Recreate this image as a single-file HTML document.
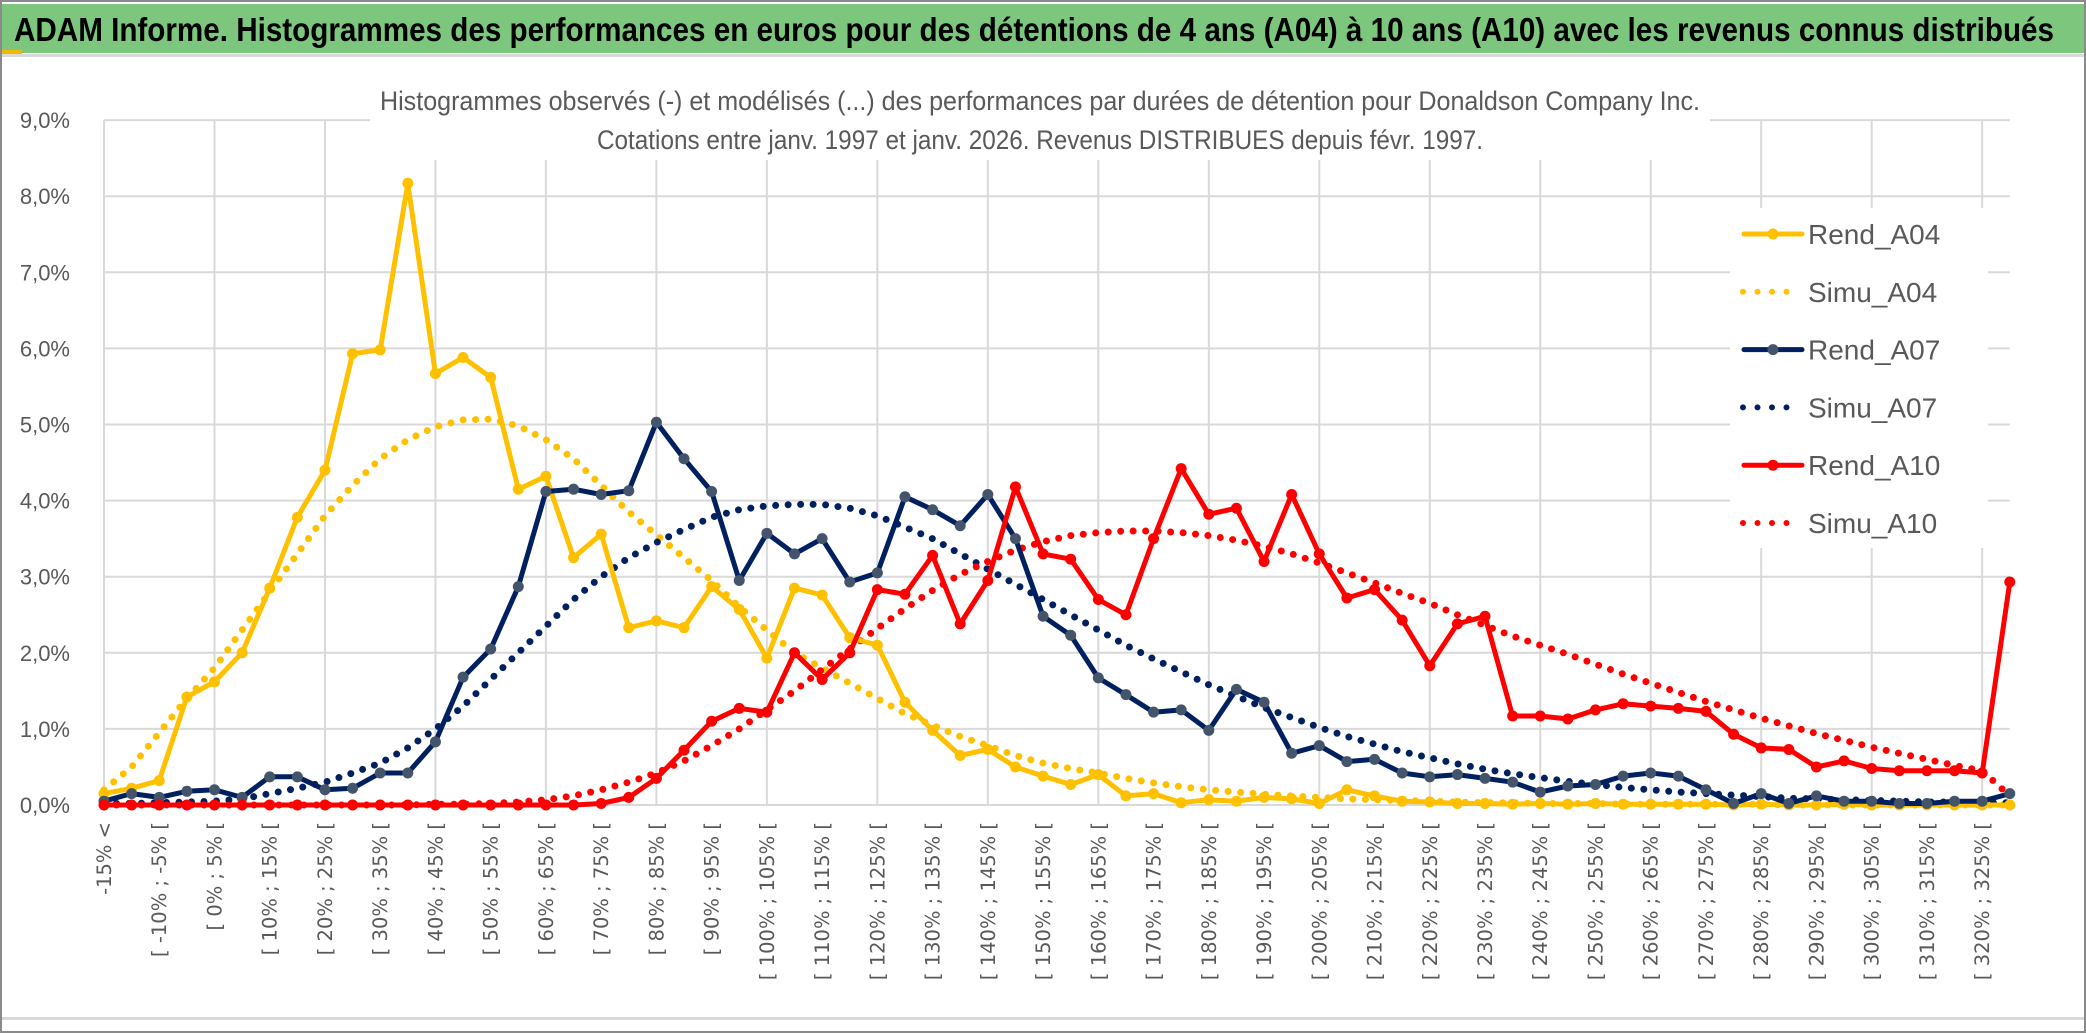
<!DOCTYPE html>
<html><head><meta charset="utf-8"><style>
html,body{margin:0;padding:0;background:#fff;}
svg{display:block;}
</style></head><body>
<svg id="chart" width="2086" height="1033" xmlns="http://www.w3.org/2000/svg">
<rect x="0" y="0" width="2086" height="1033" fill="#fff"/>
<rect x="1" y="1" width="2084" height="1031" fill="none" stroke="#8a8a8a" stroke-width="2"/>
<rect x="2" y="4" width="2082" height="49" fill="#7DC67E"/>
<rect x="2" y="54" width="2082" height="3" fill="#d9d9d9"/>
<rect x="2" y="1017" width="2082" height="3" fill="#d9d9d9"/>
<rect x="2" y="50" width="20" height="4" fill="#f2b800"/>
<text x="14" y="41" font-family="'Liberation Sans Narrow','Liberation Sans',sans-serif" font-weight="bold" font-size="33" fill="#000" textLength="2040" lengthAdjust="spacingAndGlyphs">ADAM Informe. Histogrammes des performances en euros pour des détentions de 4 ans (A04) à 10 ans (A10) avec les revenus connus distribués</text>
<g id="grid"></g>
<text x="380" y="110" font-family="'Liberation Sans Narrow','Liberation Sans',sans-serif" font-size="27" fill="#595959" textLength="1320" lengthAdjust="spacingAndGlyphs">Histogrammes observés (-) et modélisés (...) des performances par durées de détention pour Donaldson Company Inc.</text>
<text x="597" y="149" font-family="'Liberation Sans Narrow','Liberation Sans',sans-serif" font-size="27" fill="#595959" textLength="886" lengthAdjust="spacingAndGlyphs">Cotations entre janv. 1997 et janv. 2026. Revenus DISTRIBUES depuis févr. 1997.</text>
<g id="series"></g>
<g id="ylabels"></g>
<g id="xlabels"></g>
<g id="legend"></g>
</svg>
<script>
const yTicks = [0,1,2,3,4,5,6,7,8,9];
const rendA04 = [0.15,0.22,0.32,1.42,1.62,2.0,2.85,3.78,4.4,5.93,5.98,8.17,5.67,5.88,5.62,4.15,4.32,3.25,3.56,2.33,2.42,2.33,2.87,2.57,1.93,2.85,2.76,2.2,2.1,1.35,0.98,0.65,0.73,0.5,0.38,0.27,0.4,0.12,0.15,0.03,0.07,0.05,0.1,0.08,0.02,0.2,0.12,0.05,0.04,0.02,0.02,0.01,0.02,0.01,0.02,0.01,0.01,0.01,0.01,0.0,0.01,0.0,0.0,0.01,0.0,0.0,0.0,0.0,0.0,0.0];
const simuA04 = [0.2,0.5,0.95,1.4,1.8,2.3,2.8,3.3,3.8,4.2,4.55,4.8,4.97,5.06,5.07,4.98,4.8,4.55,4.2,3.85,3.55,3.25,2.95,2.6,2.3,2.0,1.8,1.6,1.4,1.2,1.05,0.9,0.78,0.65,0.55,0.48,0.42,0.35,0.29,0.24,0.2,0.17,0.14,0.12,0.1,0.08,0.07,0.06,0.05,0.04,0.03,0.03,0.02,0.02,0.02,0.01,0.01,0.01,0.01,0.01,0.01,0.0,0.0,0.0,0.0,0.0,0.0,0.0,0.0,0.0];
const rendA07 = [0.05,0.15,0.1,0.18,0.2,0.1,0.37,0.37,0.2,0.22,0.42,0.42,0.83,1.68,2.05,2.87,4.12,4.15,4.08,4.13,5.03,4.55,4.12,2.95,3.57,3.3,3.5,2.93,3.05,4.05,3.88,3.67,4.08,3.5,2.48,2.23,1.67,1.45,1.22,1.25,0.98,1.52,1.35,0.68,0.78,0.57,0.6,0.42,0.37,0.4,0.35,0.3,0.17,0.25,0.27,0.38,0.42,0.38,0.2,0.02,0.15,0.02,0.12,0.05,0.05,0.02,0.02,0.05,0.05,0.15];
const simuA07 = [0.02,0.02,0.03,0.04,0.05,0.08,0.15,0.22,0.3,0.42,0.55,0.75,1.0,1.3,1.65,2.0,2.35,2.7,3.0,3.25,3.45,3.62,3.78,3.88,3.93,3.95,3.95,3.9,3.8,3.65,3.5,3.3,3.1,2.9,2.7,2.5,2.3,2.1,1.92,1.75,1.58,1.43,1.28,1.15,1.02,0.9,0.8,0.7,0.62,0.54,0.47,0.41,0.36,0.31,0.27,0.23,0.2,0.17,0.15,0.13,0.11,0.09,0.08,0.07,0.06,0.05,0.04,0.04,0.03,0.03];
const rendA10 = [0,0,0,0,0,0,0,0,0,0,0,0,0,0,0,0,0,0,0.02,0.1,0.35,0.72,1.1,1.27,1.22,2.0,1.65,2.0,2.83,2.77,3.28,2.38,2.95,4.18,3.3,3.23,2.7,2.5,3.5,4.42,3.82,3.9,3.2,4.08,3.3,2.72,2.83,2.43,1.83,2.38,2.48,1.17,1.17,1.13,1.25,1.33,1.3,1.27,1.23,0.93,0.75,0.73,0.5,0.58,0.48,0.45,0.45,0.45,0.42,2.93];
const simuA10 = [0,0,0,0,0,0,0,0,0,0,0,0,0.01,0.01,0.02,0.04,0.07,0.12,0.2,0.3,0.42,0.58,0.78,1.0,1.25,1.5,1.78,2.05,2.32,2.58,2.82,3.03,3.2,3.35,3.46,3.54,3.58,3.6,3.6,3.58,3.54,3.48,3.4,3.3,3.18,3.05,2.92,2.78,2.65,2.5,2.36,2.22,2.1,1.98,1.85,1.72,1.6,1.48,1.36,1.25,1.14,1.04,0.94,0.85,0.76,0.68,0.6,0.52,0.45,0.12];
const categories = ['-15% <'];
for (let k = 1; k < 70; k++) { const lo = 5*(k-4); categories.push('[ ' + lo + '% ; ' + (lo+5) + '% ['); }

const NS = 'http://www.w3.org/2000/svg';
const X0 = 104, STEP = 27.62, Y0 = 805, YU = 76.1;
const xs = i => X0 + i*STEP;
const ys = v => Y0 - v*YU;
function mk(tag, attrs, parent){ const e=document.createElementNS(NS,tag); for(const k in attrs) e.setAttribute(k,attrs[k]); parent.appendChild(e); return e; }
const grid=document.getElementById('grid'), series=document.getElementById('series'), yl=document.getElementById('ylabels'), xl=document.getElementById('xlabels'), lg=document.getElementById('legend');

yTicks.forEach(t=>{
  const l=mk('line',{x1:xs(0),x2:xs(69),y1:ys(t),y2:ys(t),stroke:'#d9d9d9','stroke-width':2},grid);
  
  
  const tx=mk('text',{x:70,y:ys(t)+8,'text-anchor':'end','font-family':"'Liberation Sans Narrow','Liberation Sans',sans-serif",'font-size':22,fill:'#595959'},yl);
  tx.textContent=t.toFixed(1).replace('.',',')+'%';
  
  
});
for(let i=0;i<70;i+=4){
  const l=mk('line',{x1:xs(i),x2:xs(i),y1:ys(9),y2:ys(0),stroke:'#d9d9d9','stroke-width':2},grid);
  
  
}
const m=mk('rect',{x:370,y:80,width:1340,height:80,fill:'#fff'},grid);


const lm=mk('rect',{x:1730,y:208,width:258,height:340,fill:'#fff'},grid);



for(let i=0;i<70;i+=2){
  const x=xs(i), y=822;
  const tx=mk('text',{x:0,y:0,transform:`translate(${x+7},${y}) rotate(-90)`,'text-anchor':'end','font-family':"'DejaVu Sans',sans-serif",'font-size':19.5,fill:'#595959'},xl);
  tx.textContent=categories[i];
  
  
}

function path(arr){ return arr.map((v,i)=>(i?'L':'M')+xs(i).toFixed(1)+' '+ys(v).toFixed(1)).join(' '); }
function dotted(arr,color,name){
  const p=mk('path',{d:path(arr),fill:'none',stroke:color,'stroke-width':7,'stroke-linecap':'round','stroke-dasharray':'0 12.5'},series);
  
  
}
function solid(arr,color,mcolor,name){
  const g=mk('g',{},series);
  
  
  mk('path',{d:path(arr),fill:'none',stroke:color,'stroke-width':5,'stroke-linejoin':'round'},g);
  arr.forEach((v,i)=>{
    const c=mk('circle',{cx:xs(i),cy:ys(v),r:5.5,fill:mcolor},g);
    
    
  });
}
dotted(simuA04,'#FFC000','simu-a04-line');
dotted(simuA07,'#002060','simu-a07-line');
dotted(simuA10,'#FF0000','simu-a10-line');
solid(rendA04,'#FFC000','#FFC000','rend-a04-line');
solid(rendA07,'#002060','#44546A','rend-a07-line');
solid(rendA10,'#FF0000','#FF0000','rend-a10-line');

const legendNames=['Rend_A04','Simu_A04','Rend_A07','Simu_A07','Rend_A10','Simu_A10'];
const legendColors=['#FFC000','#FFC000','#002060','#002060','#FF0000','#FF0000'];
const legendMarkers=['#FFC000',null,'#44546A',null,'#FF0000',null];
legendNames.forEach((n,k)=>{
  const y=234+k*57.8;
  const g=mk('g',{},lg);
  
  
  if(legendMarkers[k]){
    mk('line',{x1:1744,x2:1802,y1:y,y2:y,stroke:legendColors[k],'stroke-width':5,'stroke-linecap':'round'},g);
    mk('circle',{cx:1773,cy:y,r:5.5,fill:legendMarkers[k]},g);
  } else {
    mk('line',{x1:1743,x2:1800,y1:y,y2:y,stroke:legendColors[k],'stroke-width':6,'stroke-linecap':'round','stroke-dasharray':'0 14.5'},g);
  }
  const t=mk('text',{x:1808,y:y+10,'font-family':"'Liberation Sans Narrow','Liberation Sans',sans-serif",'font-size':28,fill:'#595959'},g);
  t.textContent=n;
});
</script>
</body></html>
